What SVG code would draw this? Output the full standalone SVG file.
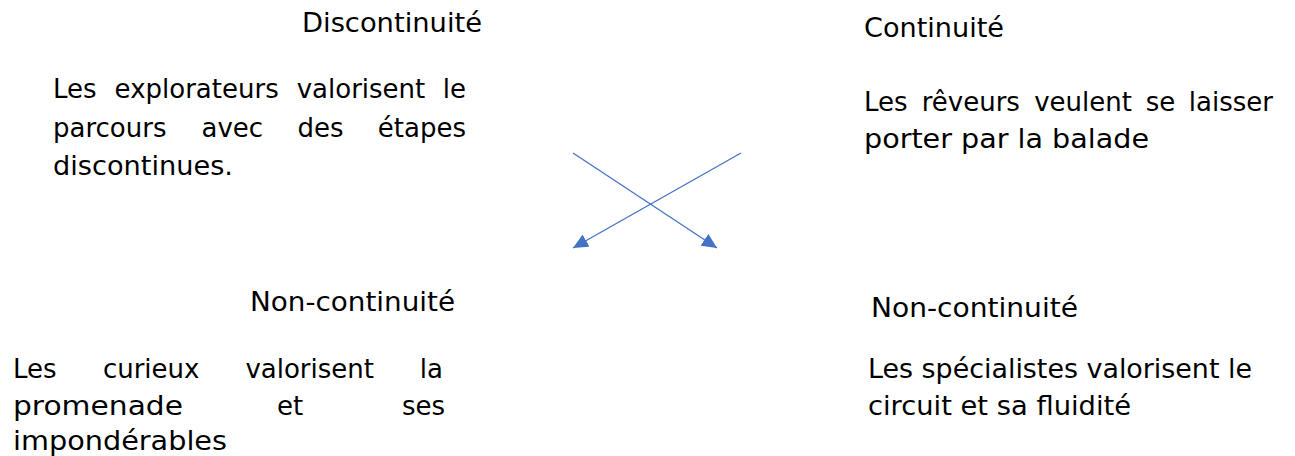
<svg xmlns="http://www.w3.org/2000/svg" width="1295" height="456" viewBox="0 0 1295 456">
<style>
text{font-family:"DejaVu Sans","Liberation Sans",sans-serif;font-size:26px;fill:#000;}
.conn{stroke:#4472C4;stroke-width:1.3;fill:none;}
</style>
<defs>
<marker id="arr" markerUnits="userSpaceOnUse" markerWidth="15" markerHeight="14" viewBox="0 0 15 14" refX="15" refY="7" orient="auto">
<path d="M0,0 L15,7 L0,14 z" fill="#4472C4"/>
</marker>
</defs>
<rect width="1295" height="456" fill="#fff"/>

<g id="node-discontinuite">
<text x="302" y="32" textLength="180" lengthAdjust="spacingAndGlyphs">Discontinuité</text>
<text y="98"><tspan x="53">Les</tspan><tspan x="114.6">explorateurs</tspan><tspan x="296.7">valorisent</tspan></text>
<text x="466" y="98" text-anchor="end">le</text>
<text y="136.5"><tspan x="53">parcours</tspan><tspan x="201.5">avec</tspan><tspan x="297.5">des</tspan></text>
<text x="466" y="136.5" text-anchor="end">étapes</text>
<text x="53" y="175" textLength="180" lengthAdjust="spacingAndGlyphs">discontinues.</text>
</g>

<g id="node-continuite">
<text x="864" y="37" textLength="140" lengthAdjust="spacingAndGlyphs">Continuité</text>
<text y="111"><tspan x="864">Les</tspan><tspan x="921.7">rêveurs</tspan><tspan x="1034.2">veulent</tspan><tspan x="1145.7">se</tspan></text>
<text x="1273" y="111" text-anchor="end">laisser</text>
<text x="864" y="148" textLength="285" lengthAdjust="spacingAndGlyphs">porter par la balade</text>
</g>

<g id="node-noncontinuite-left">
<text x="250" y="311" textLength="205" lengthAdjust="spacingAndGlyphs">Non-continuité</text>
<text y="378"><tspan x="13">Les</tspan><tspan x="102.9">curieux</tspan><tspan x="245.4">valorisent</tspan></text>
<text x="443" y="378" text-anchor="end">la</text>
<text x="13" y="415" textLength="170" lengthAdjust="spacingAndGlyphs">promenade</text>
<text x="277" y="415">et</text>
<text x="445" y="415" text-anchor="end">ses</text>
<text x="13" y="450" textLength="214" lengthAdjust="spacingAndGlyphs">impondérables</text>
</g>

<g id="node-noncontinuite-right">
<text x="871" y="317" textLength="207" lengthAdjust="spacingAndGlyphs">Non-continuité</text>
<text x="868" y="378" textLength="384" lengthAdjust="spacingAndGlyphs">Les spécialistes valorisent le</text>
<text x="868" y="415" textLength="263" lengthAdjust="spacingAndGlyphs">circuit et sa fluidité</text>
</g>

<g id="connectors">
<line class="conn" x1="573" y1="153" x2="717" y2="248" marker-end="url(#arr)"/>
<line class="conn" x1="741" y1="153" x2="573" y2="248" marker-end="url(#arr)"/>
</g>
</svg>
